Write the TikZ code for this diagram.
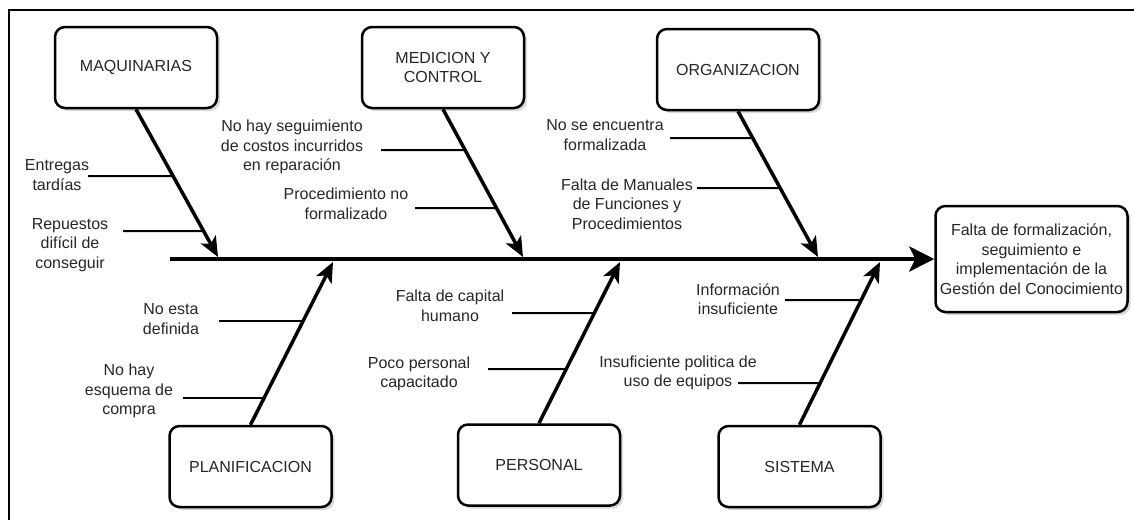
\documentclass[tikz,border=0pt]{standalone}
\usepackage{fontspec}
\setmainfont{Liberation Sans}
\usetikzlibrary{arrows.meta,shadows}

\begin{document}
\begin{tikzpicture}[x=1pt,y=-1pt]
  \tikzstyle{every node} = [text=black!85, font=\fontsize{16}{19.5}\selectfont, align=center];
  \tikzstyle{cat} = [draw, line width=2.5pt, rounded corners=10pt, fill=white, inner sep=3pt,
                     minimum width=162pt, minimum height=81pt,
                     drop shadow={shadow xshift=3pt, shadow yshift=-3pt, opacity=0.3}];
  \tikzstyle{bone} = [line width=3.5pt, -{Stealth[length=20pt,width=17pt,inset=5pt]}];
  \tikzstyle{rib} = [line width=2pt];
  \useasboundingbox (0,0) rectangle (1134,520);
  \draw[line width=2.5pt] (9,520) |- (1134,10);
  % effect and spine
  \node[cat, minimum width=192pt, minimum height=106pt] (eff) at (1031.5,259)
    {Falta de formalización,\\seguimiento e\\implementación de la\\Gestión del Conocimiento};
  \coordinate (tail) at (170,259);
  \draw[line width=4.5pt, -{Stealth[length=25pt,width=25pt,inset=6pt]}] (tail) -- (eff.west);
  % categories
  \foreach \n/\x/\y/\a/\tx/\ty/\t in {mq/136/67.5/south/218/257/MAQUINARIAS,
                                     mc/443/67.5/south/523/257/{MEDICION Y\\CONTROL},
                                     og/738/69.5/south/818/257/ORGANIZACION,
                                     pl/250.5/466.5/north/333/262/PLANIFICACION,
                                     ps/539/465/north/620/262/PERSONAL,
                                     si/799.5/466.5/north/880/262/SISTEMA}{
    \node[cat] (\n) at (\x,\y) {\t};
    \coordinate (\n-s) at (\n.\a);
    \coordinate (\n-t) at (\tx,\ty);
    \draw[bone] (\n-s) -- (\n-t);
  }
  % causes
  \foreach \i/\tx/\ty/\t/\lx/\ly/\c in {1/57/175/{Entregas\\tardías}/88/176/mq,
                                       2/70/245/{Repuestos\\difícil de\\conseguir}/123/231/mq,
                                       3/292/147/{No hay seguimiento\\de costos incurridos\\en reparación}/381/150/mc,
                                       4/346/204/{Procedimiento no\\formalizado}/415/208/mc,
                                       5/605/135/{No se encuentra\\formalizada}/670/138/og,
                                       6/627/204/{Falta de Manuales\\de Funciones y\\Procedimientos}/697/188/og,
                                       7/171/319/{No esta\\definida}/219/321/pl,
                                       8/129/391/{No hay\\esquema de\\compra}/183/398/pl,
                                       9/450/306/{Falta de capital\\humano}/512/313/ps,
                                       10/419/374/{Poco personal\\capacitado}/488/369/ps,
                                       11/738/299/{Información\\insuficiente}/785/300/si,
                                       12/678/373/{Insuficiente politica de\\uso de equipos}/738/383/si}{
    \node (c\i) at (\tx,\ty) {\t};
    \coordinate (r\i) at (\lx,\ly);
    \draw[rib] (r\i) -- (intersection cs: first line={(r\i)--([xshift=50pt]r\i)},
                                          second line={(\c-s)--(\c-t)});
  }
\end{tikzpicture}
\end{document}
